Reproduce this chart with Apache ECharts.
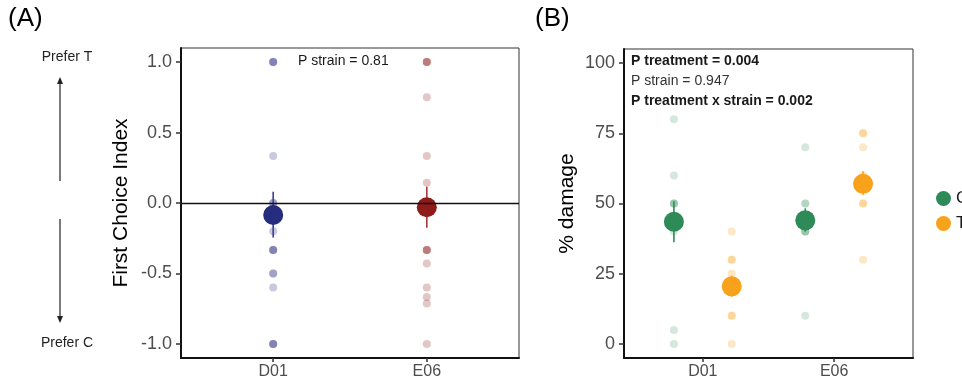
<!DOCTYPE html>
<html><head><meta charset="utf-8">
<script src="https://cdn.jsdelivr.net/npm/echarts@6/dist/echarts.min.js"></script>
<style>html,body{margin:0;padding:0;background:#fff}#c{width:962px;height:387px}</style>
</head><body><div id="c"></div>
<script>
// ---------- Data ----------
const strains = ['D01', 'E06'];
const treatments = ['C', 'T'];
// Panel A: First Choice Index raw observations (repeats = overlapping points)
const fciD01 = [1, 1, 1, 0.333, 0, 0, -0.2, -0.333, -0.333, -0.333, -0.5, -0.5, -0.6, -1, -1, -1];
const fciE06 = [1, 1, 1, 0.75, 0.333, 0.143, -0.333, -0.333, -0.333, -0.429, -0.6, -0.667, -0.714, -1];
const fciMean = [-0.085, -0.03];
const fciLo = [-0.245, -0.175];
const fciHi = [0.08, 0.115];
const fciTicks = [-1, -0.5, 0, 0.5, 1];
// Panel B: % damage raw observations
const dmgC_D01 = [80, 60, 50, 50, 50, 40, 5, 0];
const dmgT_D01 = [40, 30, 30, 25, 20, 10, 10, 0];
const dmgC_E06 = [70, 50, 50, 40, 40, 40, 10];
const dmgT_E06 = [75, 75, 70, 60, 50, 50, 30];
const dmgMeanC = [43.5, 44];
const dmgLoC = [36.2, 40];
const dmgHiC = [50.8, 48.3];
const dmgMeanT = [20.5, 57];
const dmgLoT = [16.8, 53];
const dmgHiT = [24.3, 61.5];
const dmgTicks = [0, 25, 50, 75, 100];

// ---------- Styling ----------
const FONT = 'Liberation Sans, Arial, sans-serif';
const NAVY = '#262c7e', RED = '#8e1a1a', GREEN = '#2e8b57', ORANGE = '#f8a21c';
const DODGE = 0.22;

function raw(arr, x) { return arr.map(v => [x, v]); }
function errSeries(xi, yi, lo, hi, color, xs) {
  return {
    type: 'custom', xAxisIndex: xi, yAxisIndex: yi, z: 3, silent: true,
    data: xs.map((x, i) => [x, lo[i], hi[i]]),
    renderItem: (p, api) => {
      const a = api.coord([api.value(0), api.value(1)]);
      const b = api.coord([api.value(0), api.value(2)]);
      return { type: 'line', shape: { x1: a[0], y1: a[1], x2: b[0], y2: b[1] }, style: { stroke: color, lineWidth: 1.6 } };
    }
  };
}
function rawSeries(name, xi, yi, data, color, op) {
  return { name, type: 'scatter', xAxisIndex: xi, yAxisIndex: yi, z: 2, symbolSize: 8, silent: true,
    itemStyle: { color, opacity: op }, data };
}
function meanSeries(name, xi, yi, data, color) {
  return { name, type: 'scatter', xAxisIndex: xi, yAxisIndex: yi, z: 4, symbolSize: 20, silent: true,
    itemStyle: { color, opacity: 1 }, data };
}

function xAxis(gi) {
  return { type: 'value', gridIndex: gi, min: 0.4, max: 2.6, splitLine: { show: false },
    axisLine: { onZero: false, lineStyle: { color: '#111', width: 2 } },
    axisTick: { customValues: [1, 2], length: 4, lineStyle: { color: '#333', width: 1.5 } },
    axisLabel: { customValues: [1, 2], formatter: v => strains[Math.round(v) - 1], margin: 6,
      color: '#4d4d4d', fontSize: 16, fontFamily: FONT } };
}
function yLbl(ticks, fmt) {
  return { customValues: ticks, formatter: fmt, color: '#4d4d4d', fontSize: 18, fontFamily: FONT, margin: 9 };
}

const chart = echarts.init(document.getElementById('c'), null, { renderer: 'canvas' });
chart.setOption({
  animation: false,
  backgroundColor: '#fff',
  textStyle: { fontFamily: FONT },
  grid: [
    { left: 181, top: 48, width: 338, height: 310, show: true, borderColor: '#333', borderWidth: 1 },
    { left: 624, top: 49, width: 289, height: 309, show: true, borderColor: '#333', borderWidth: 1 }
  ],
  xAxis: [xAxis(0), xAxis(1)],
  yAxis: [
    { type: 'value', gridIndex: 0, min: -1.1, max: 1.1, splitLine: { show: false },
      name: 'First Choice Index', nameLocation: 'middle', nameGap: 49,
      nameTextStyle: { fontSize: 21, color: '#000', fontFamily: FONT },
      axisLine: { show: true, onZero: false, lineStyle: { color: '#111', width: 2 } },
      axisTick: { show: true, customValues: fciTicks, length: 5, lineStyle: { color: '#333', width: 1.5 } },
      axisLabel: yLbl(fciTicks, v => v.toFixed(1)) },
    { type: 'value', gridIndex: 1, min: -5, max: 105, splitLine: { show: false },
      name: '% damage', nameLocation: 'middle', nameGap: 46,
      nameTextStyle: { fontSize: 21, color: '#000', fontFamily: FONT },
      axisLine: { show: true, onZero: false, lineStyle: { color: '#111', width: 2 } },
      axisTick: { show: true, customValues: dmgTicks, length: 5, lineStyle: { color: '#333', width: 1.5 } },
      axisLabel: yLbl(dmgTicks, v => String(v)) }
  ],
  legend: {
    data: treatments, orient: 'vertical', left: 931, top: 185, icon: 'circle',
    itemWidth: 15, itemHeight: 15, itemGap: 8,
    textStyle: { fontSize: 17, color: '#1a1a1a', fontFamily: FONT }
  },
  series: [
    Object.assign(rawSeries('rawA1', 0, 0, raw(fciD01, 1), NAVY, 0.25), {
      markLine: { silent: true, symbol: 'none', label: { show: false },
        lineStyle: { color: '#111', width: 1.3, type: 'solid' }, data: [{ yAxis: 0 }] } }),
    rawSeries('rawA2', 0, 0, raw(fciE06, 2), RED, 0.25),
    errSeries(0, 0, [fciLo[0]], [fciHi[0]], '#3b4192', [1]),
    errSeries(0, 0, [fciLo[1]], [fciHi[1]], '#a33a3a', [2]),
    meanSeries('meanA1', 0, 0, [[1, fciMean[0]]], NAVY),
    meanSeries('meanA2', 0, 0, [[2, fciMean[1]]], RED),

    rawSeries('rawC', 1, 1, raw(dmgC_D01, 1 - DODGE).concat(raw(dmgC_E06, 2 - DODGE)), GREEN, 0.2),
    rawSeries('rawT', 1, 1, raw(dmgT_D01, 1 + DODGE).concat(raw(dmgT_E06, 2 + DODGE)), ORANGE, 0.25),
    errSeries(1, 1, dmgLoC, dmgHiC, GREEN, [1 - DODGE, 2 - DODGE]),
    errSeries(1, 1, dmgLoT, dmgHiT, ORANGE, [1 + DODGE, 2 + DODGE]),
    meanSeries('C', 1, 1, [[1 - DODGE, dmgMeanC[0]], [2 - DODGE, dmgMeanC[1]]], GREEN),
    meanSeries('T', 1, 1, [[1 + DODGE, dmgMeanT[0]], [2 + DODGE, dmgMeanT[1]]], ORANGE)
  ],
  graphic: [
    { type: 'text', left: 8, top: 6, style: { text: '(A)', fill: '#000', font: '26px ' + FONT } },
    { type: 'text', left: 535, top: 6, style: { text: '(B)', fill: '#000', font: '26px ' + FONT } },
    { type: 'text', x: 67, y: 57, style: { text: 'Prefer T', fill: '#222', font: '14px ' + FONT, align: 'center', verticalAlign: 'middle' } },
    { type: 'text', x: 67, y: 343, style: { text: 'Prefer C', fill: '#222', font: '14px ' + FONT, align: 'center', verticalAlign: 'middle' } },
    { type: 'line', shape: { x1: 60, y1: 83, x2: 60, y2: 181 }, style: { stroke: '#222', lineWidth: 1.2 } },
    { type: 'polygon', shape: { points: [[60, 77], [57, 84], [63, 84]] }, style: { fill: '#222' } },
    { type: 'line', shape: { x1: 60, y1: 219, x2: 60, y2: 317 }, style: { stroke: '#222', lineWidth: 1.2 } },
    { type: 'polygon', shape: { points: [[60, 323], [57, 316], [63, 316]] }, style: { fill: '#222' } },
    { type: 'text', x: 298, y: 61, style: { text: 'P strain = 0.81', fill: '#1a1a1a', font: '14px ' + FONT, verticalAlign: 'middle' } },
    { type: 'text', x: 631, y: 61, style: { text: 'P treatment = 0.004', fill: '#1a1a1a', font: 'bold 14px ' + FONT, verticalAlign: 'middle' } },
    { type: 'text', x: 631, y: 81, style: { text: 'P strain = 0.947', fill: '#333', font: '14px ' + FONT, verticalAlign: 'middle' } },
    { type: 'text', x: 631, y: 101, style: { text: 'P treatment x strain = 0.002', fill: '#1a1a1a', font: 'bold 14px ' + FONT, verticalAlign: 'middle' } }
  ]
});
</script></body></html>
